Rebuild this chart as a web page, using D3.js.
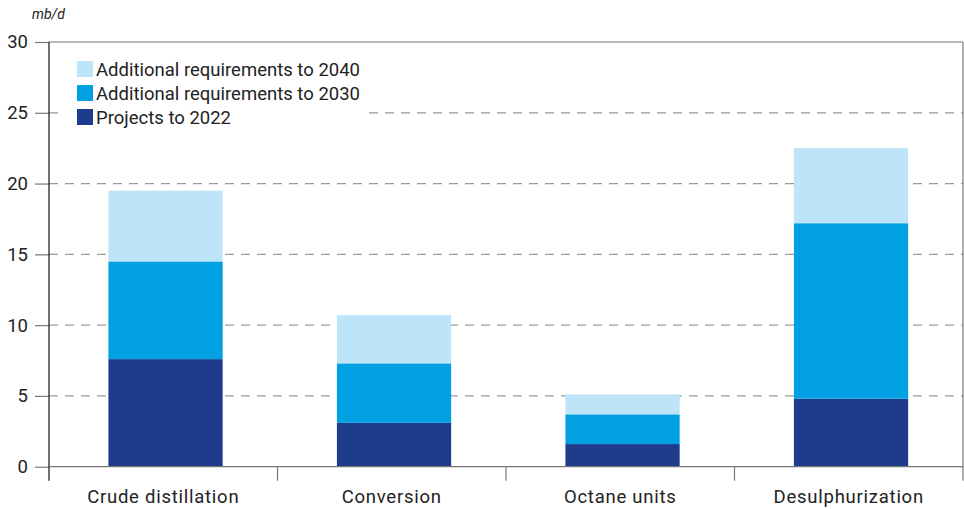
<!DOCTYPE html>
<html><head><meta charset="utf-8">
<script src="https://cdn.jsdelivr.net/npm/d3@7"></script>
<style>body{margin:0;background:#fff}svg{display:block}text{font-family:Roboto,"DejaVu Sans",sans-serif}</style>
</head><body><svg id="c" width="964" height="509"></svg>
<script>
const categories = ["Crude distillation","Conversion","Octane units","Desulphurization"];
const projects2022 = [7.6, 3.1, 1.6, 4.8];
const additional2030 = [6.9, 4.2, 2.1, 12.4];
const additional2040 = [5.0, 3.4, 1.4, 5.3];
const seriesNames = ["Projects to 2022","Additional requirements to 2030","Additional requirements to 2040"];
const yTicks = [0,5,10,15,20,25,30];
const colors = ["#1f3c8c","#00a0e3","#bde4f8"];

const svg = d3.select("#c");
const L=49, R=963, T=42, B=466.7;
const x = d3.scaleBand().domain(categories).range([L,R]).paddingInner(0.5).paddingOuter(0.25).align(0.52);
const y = d3.scaleLinear().domain([0,30]).range([B,T]);

const rows = categories.map((c,i)=>({cat:c, p:projects2022[i], a:additional2030[i], b:additional2040[i]}));
const stack = d3.stack().keys(["p","a","b"])(rows);

// gridlines
svg.append("g").selectAll("line").data(yTicks.filter(t=>t>0&&t<30)).join("line")
  .attr("x1",L).attr("x2",R).attr("y1",d=>y(d)).attr("y2",d=>y(d))
  .attr("stroke","#9a9a9a").attr("stroke-width",1.2).attr("stroke-dasharray","9,7");
// top frame & right frame
svg.append("line").attr("x1",L).attr("x2",R).attr("y1",y(30)).attr("y2",y(30)).attr("stroke","#777").attr("stroke-width",1.2);
svg.append("line").attr("x1",R).attr("x2",R).attr("y1",y(30)).attr("y2",B+14).attr("stroke","#777").attr("stroke-width",1.2);

// bars
svg.append("g").selectAll("g").data(stack).join("g").attr("fill",(d,i)=>colors[i])
  .selectAll("rect").data(d=>d).join("rect")
  .attr("x",d=>x(d.data.cat)).attr("width",x.bandwidth())
  .attr("y",d=>y(d[1])).attr("height",d=>y(d[0])-y(d[1]));

// y axis
const ya = svg.append("g").attr("transform",`translate(${L},0)`)
  .call(d3.axisLeft(y).tickValues(yTicks).tickSize(14).tickPadding(7));
ya.select(".domain").remove();
ya.selectAll(".tick line").attr("stroke","#777").attr("stroke-width",1.2);
ya.selectAll(".tick text").attr("font-size",18.5).attr("fill","#222");
svg.append("line").attr("x1",L).attr("x2",L).attr("y1",T).attr("y2",B+14).attr("stroke","#111").attr("stroke-width",1.2);

// x axis
svg.append("line").attr("x1",L).attr("x2",R).attr("y1",B).attr("y2",B).attr("stroke","#777").attr("stroke-width",1.2);
const step = x.step();
const bounds = d3.range(1,categories.length).map(i=>L+i*step);
svg.append("g").selectAll("line").data(bounds).join("line")
  .attr("x1",d=>d).attr("x2",d=>d).attr("y1",B).attr("y2",B+14).attr("stroke","#777").attr("stroke-width",1.2);
svg.append("g").selectAll("text").data(categories).join("text")
  .attr("x",(d,i)=>L+(i+0.5)*step).attr("y",B+36).attr("text-anchor","middle")
  .attr("font-size",18.5).attr("fill","#222").attr("letter-spacing",0.75).text(d=>d);

// unit
svg.append("text").attr("x",32).attr("y",19).attr("font-size",14).attr("font-style","italic").attr("fill","#222").text("mb/d");

// legend
const lg = svg.append("g");
lg.append("rect").attr("x",62).attr("y",56).attr("width",300).attr("height",76).attr("fill","#fff");
const order=[2,1,0];
order.forEach((s,k)=>{
  const yy = 61 + k*24;
  lg.append("rect").attr("x",77).attr("y",yy).attr("width",16).attr("height",16).attr("fill",colors[s]);
  lg.append("text").attr("x",96).attr("y",yy+15).attr("font-size",18.5).attr("fill","#222").text(seriesNames[s]);
});
</script></body></html>
